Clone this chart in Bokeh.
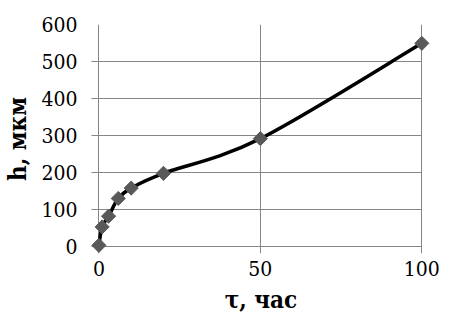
import numpy as np
from bokeh.plotting import figure
from bokeh.models import FixedTicker, Range1d
from bokeh.embed import file_html
from bokeh.resources import INLINE

# data
t_hours = [0, 1, 3, 6, 10, 20, 50, 100]
h_um = [2, 52, 81, 129, 157, 197, 291, 549]
x_ticks = [0, 50, 100]
y_ticks = [0, 100, 200, 300, 400, 500, 600]
x_title = "τ, час"
y_title = "h, мкм"

GRID = "#868686"
MARK = "#595959"
FONT = "DejaVu Serif Condensed"

p = figure(frame_width=341, frame_height=229, output_backend="svg", toolbar_location=None,
           x_range=Range1d(-2.6, 103), y_range=Range1d(-20, 600),
           min_border_left=81, min_border_right=25, min_border_top=24, min_border_bottom=67)
p.outline_line_color = None
p.background_fill_color = "white"
p.border_fill_color = "white"

# smooth (Catmull-Rom style) bezier segments built from the data
x = np.array(t_hours, dtype=float)
y = np.array(h_um, dtype=float)
xe = np.concatenate([[x[0]], x, [x[-1]]])
ye = np.concatenate([[y[0]], y, [y[-1]]])
n = len(x)
x0 = x[:-1]; y0 = y[:-1]; x1 = x[1:]; y1 = y[1:]
cx0 = x0 + (xe[2:n+1] - xe[0:n-1]) / 6.0
cy0 = y0 + (ye[2:n+1] - ye[0:n-1]) / 6.0
cx1 = x1 - (xe[3:n+2] - xe[1:n]) / 6.0
cy1 = y1 - (ye[3:n+2] - ye[1:n]) / 6.0
p.bezier(x0=x0, y0=y0, x1=x1, y1=y1, cx0=cx0, cy0=cy0, cx1=cx1, cy1=cy1,
         line_color="black", line_width=3.5)

p.scatter(t_hours, h_um, marker="square", size=10, angle=np.pi / 4,
          fill_color=MARK, line_color=MARK)

for ax, ticks in ((p.xaxis, x_ticks), (p.yaxis, y_ticks)):
    ax.ticker = FixedTicker(ticks=ticks)
    ax.axis_line_color = None
    ax.major_tick_line_color = None
    ax.minor_tick_line_color = None
    ax.major_tick_out = 0
    ax.major_tick_in = 0
    ax.major_label_text_font = FONT
    ax.major_label_text_font_size = "21px"
    ax.major_label_text_color = "black"
    ax.axis_label_text_font = FONT
    ax.axis_label_text_font_size = "24px"
    ax.axis_label_text_font_style = "bold"
    ax.axis_label_text_color = "black"

p.xaxis.axis_label = x_title
p.yaxis.axis_label = y_title
p.yaxis.major_label_standoff = 13
p.xaxis.major_label_standoff = 7
p.yaxis.axis_label_standoff = 6
p.xaxis.axis_label_standoff = 6

p.xgrid.ticker = FixedTicker(ticks=x_ticks)
p.ygrid.ticker = FixedTicker(ticks=y_ticks)
for g in (p.xgrid, p.ygrid):
    g.grid_line_color = GRID
    g.grid_line_width = 1
p.xgrid.cross_bounds = (-19, 600)
p.ygrid.cross_bounds = (-2.2, 100)

open("out.html", "w").write(file_html(p, INLINE))
